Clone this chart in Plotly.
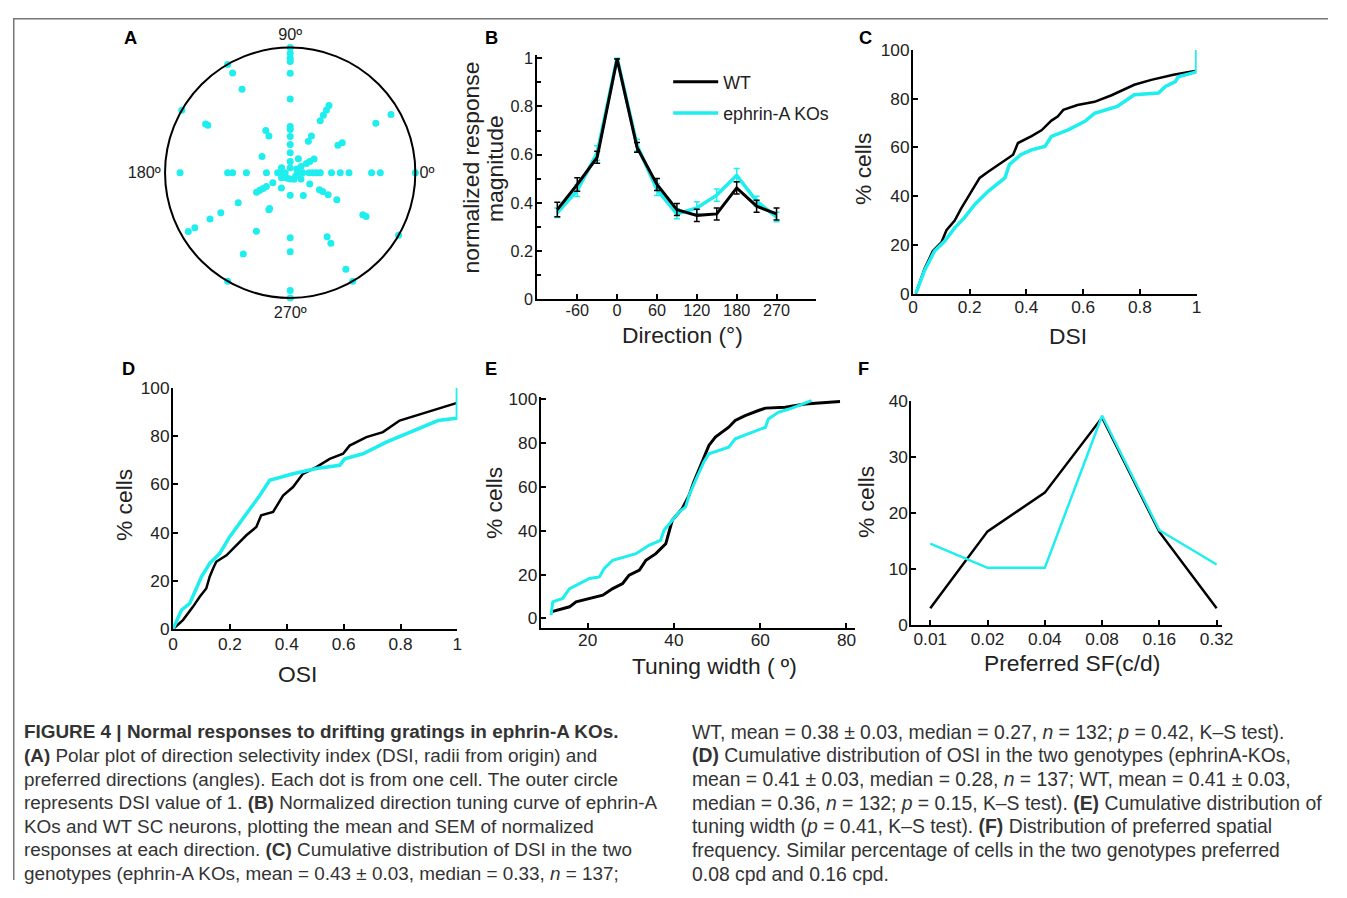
import plotly.graph_objects as go

# Figure size is kept fixed; reference-image pixel positions (X, Y) are mapped
# into figure pixels with the empirically measured placement of the rendered page.
W, H = 1331, 882
SX, OX = 0.988, 13.3
SY, OY = 0.980, 16.3
FS = 1.015  # font compensation for the rendered scale
FONT = "Liberation Sans, Arial, Helvetica, sans-serif"
CYAN = "#1EEEEE"
TXT = "#222"

# ---------------- data ----------------
# A: polar plot of DSI (radius) vs preferred direction (deg)
polar_theta = ([90] * 13 + [270] * 6 + [0] * 12 + [180] * 8 + [30] * 9 + [60] * 7 +
               [120] * 5 + [150] * 5 + [210] * 11 + [240] * 7 + [300] * 6 + [330] * 10)
polar_r = [1.0, 0.955, 0.915, 0.89, 0.795, 0.59, 0.37, 0.345, 0.29, 0.225, 0.16, 0.09, 0.04,
           0.18, 0.52, 0.63, 0.94, 1.0, 0.05,
           1.0, 0.72, 0.65, 0.47, 0.40, 0.33, 0.24, 0.21, 0.18, 0.15, 0.10, 0.06,
           0.88, 0.50, 0.46, 0.35, 0.19, 0.10, 0.07, 0.04,
           0.93, 0.79, 0.48, 0.44, 0.22, 0.18, 0.15, 0.10, 0.06,
           0.62, 0.58, 0.53, 0.48, 0.34, 0.29, 0.13,
           1.0, 0.92, 0.77, 0.39, 0.34,
           1.0, 0.78, 0.76, 0.26, 0.08,
           0.94, 0.88, 0.74, 0.64, 0.48, 0.31, 0.28, 0.25, 0.22, 0.16, 0.08,
           1.0, 0.75, 0.54, 0.34, 0.33, 0.14, 0.05,
           1.0, 0.89, 0.65, 0.59, 0.21, 0.06,
           1.0, 0.70, 0.67, 0.43, 0.35, 0.30, 0.27, 0.18, 0.10, 0.05]
polar_tickvals = [0, 90, 180, 270]
polar_ticktext = ["0º", "90º", "180º", "270º"]

# B: normalized direction tuning curves
directions = [-90, -60, -30, 0, 30, 60, 90, 120, 150, 180, 210, 240]
wt_resp = [0.372, 0.476, 0.589, 0.997, 0.63, 0.476, 0.372, 0.348, 0.354, 0.462, 0.386, 0.354]
wt_sem = [0.03, 0.028, 0.025, 0.0, 0.02, 0.025, 0.025, 0.025, 0.025, 0.025, 0.025, 0.025]
ko_resp = [0.359, 0.451, 0.607, 1.0, 0.639, 0.455, 0.354, 0.379, 0.432, 0.514, 0.407, 0.341]
ko_sem = [0.02, 0.025, 0.03, 0.0, 0.025, 0.025, 0.02, 0.025, 0.025, 0.028, 0.02, 0.02]
b_tickvals = [-60, 0, 60, 120, 180, 240]
b_ticktext = ["-60", "0", "60", "120", "180", "270"]

# C: cumulative DSI
c_wt_x = [0.01, 0.04, 0.07, 0.10, 0.118, 0.147, 0.17, 0.20, 0.235, 0.265, 0.31, 0.353, 0.37,
          0.418, 0.453, 0.488, 0.51, 0.53, 0.58, 0.64, 0.70, 0.78, 0.84, 0.918, 0.994]
c_wt_y = [0, 10, 17.5, 21, 26, 30, 35, 40.6, 47.5, 50, 53.6, 57, 61.8,
          64.6, 67, 71, 72.7, 75.4, 77.4, 78.7, 81.4, 85.7, 87.7, 89.8, 91.4]
c_ko_x = [0.01, 0.04, 0.076, 0.112, 0.147, 0.18, 0.218, 0.265, 0.324, 0.34, 0.38, 0.418, 0.465,
          0.488, 0.547, 0.606, 0.64, 0.72, 0.78, 0.865, 0.89, 0.925, 0.935, 0.994, 1.0, 1.0]
c_ko_y = [0, 9.3, 17.5, 21.6, 27, 31, 36.6, 42, 47.5, 53, 57, 59, 60.4,
          64.5, 67.2, 70.7, 74, 76.8, 81.6, 82.3, 85, 87, 89, 90.5, 91, 100]

# D: cumulative OSI
d_wt_x = [0, 0.035, 0.07, 0.094, 0.117, 0.129, 0.141, 0.152, 0.188, 0.223, 0.258, 0.293, 0.31,
          0.352, 0.387, 0.422, 0.457, 0.504, 0.551, 0.598, 0.621, 0.68, 0.738, 0.797, 0.856, 0.926, 0.996]
d_wt_y = [0, 3.7, 9.2, 13.4, 16.8, 21.7, 25.1, 27.9, 30.6, 34.8, 38.9, 42.3, 47.2,
          48.6, 55.4, 58.9, 64.4, 67.2, 70.6, 72.7, 76.1, 79.6, 81.7, 86.5, 88.6, 91.3, 93.7]
d_ko_x = [0, 0.03, 0.059, 0.076, 0.1, 0.129, 0.164, 0.199, 0.234, 0.27, 0.305, 0.34, 0.422,
          0.504, 0.586, 0.604, 0.668, 0.75, 0.809, 0.879, 0.932, 0.996, 1.0, 1.0]
d_ko_y = [0, 7.9, 10.6, 15.4, 21.7, 27.2, 31.3, 38.2, 43.7, 49.9, 55.4, 61.7, 64.4,
          66.6, 67.9, 70.6, 72.7, 77.5, 80.3, 83.7, 86.5, 87.4, 87.4, 100]

# E: cumulative tuning width
e_wt_x = [11.5, 15.8, 17.3, 20.4, 23.5, 25.8, 28.1, 29.6, 32, 33.5, 35.8, 38.1, 38.7, 39.6,
          41.9, 43.5, 44.6, 46.5, 48.1, 49.6, 52.7, 54.2, 56.5, 59.6, 61.2, 65.8, 70.4, 78.5]
e_wt_y = [3, 5.3, 7.6, 9.1, 10.6, 13.6, 15.9, 19.7, 22, 26.5, 29.5, 34, 37.9, 44.7,
          50, 56, 62.1, 71.2, 78.8, 82.6, 87.1, 90.2, 92.4, 94.7, 95.8, 96.2, 97.7, 98.8]
e_ko_x = [11.5, 11.9, 14.2, 15.8, 18.1, 20.4, 22.7, 23.8, 25.8, 28.8, 31.2, 34.2, 36.9, 37.7,
          39.6, 41.2, 42.7, 43.5, 45, 46.9, 48.1, 52.7, 54.2, 58.1, 61.2, 61.9, 64.2, 66.9, 68.8, 71.9]
e_ko_y = [1.5, 7.6, 9.1, 13.6, 15.9, 18.2, 18.9, 22.7, 26.5, 28, 29.5, 33.3, 35.6, 40.2,
          44.7, 48.5, 50.8, 56, 62.9, 71.2, 75, 78, 81.8, 84.8, 87.1, 90.9, 93.9, 95.5, 97, 99.2]

# F: preferred spatial frequency distribution
sf = [0.01, 0.02, 0.04, 0.08, 0.16, 0.32]
sf_labels = ["0.01", "0.02", "0.04", "0.08", "0.16", "0.32"]
f_wt = [3.0, 16.7, 23.6, 37.0, 16.6, 3.0]
f_ko = [14.5, 10.2, 10.2, 37.3, 16.9, 10.8]

panel_letters = ["A", "B", "C", "D", "E", "F"]
panel_letter_px = [(131, 36), (492, 36), (866, 36), (129, 368), (491, 368), (864, 368)]

# axis titles: (text, x, y, rotated)
axis_titles = [
    ("Direction (°)", 683, 334, False),
    ("normalized response", 471.5, 166, True),
    ("magnitude", 496, 167, True),
    ("DSI", 1068, 335, False),
    ("% cells", 864, 168, True),
    ("OSI", 298, 674, False),
    ("% cells", 125, 505, True),
    ("Tuning width ( º)", 715, 666, False),
    ("% cells", 495, 503, True),
    ("Preferred SF(c/d)", 1072, 663, False),
    ("% cells", 867, 502, True),
]

caption_left = [
    "<b>FIGURE 4 | Normal responses to drifting gratings in ephrin-A KOs.</b>",
    "<b>(A)</b> Polar plot of direction selectivity index (DSI, radii from origin) and",
    "preferred directions (angles). Each dot is from one cell. The outer circle",
    "represents DSI value of 1. <b>(B)</b> Normalized direction tuning curve of ephrin-A",
    "KOs and WT SC neurons, plotting the mean and SEM of normalized",
    "responses at each direction. <b>(C)</b> Cumulative distribution of DSI in the two",
    "genotypes (ephrin-A KOs, mean = 0.43 ± 0.03, median = 0.33, <i>n</i> = 137;",
]
caption_right = [
    "WT, mean = 0.38 ± 0.03, median = 0.27, <i>n</i> = 132; <i>p</i> = 0.42, K–S test).",
    "<b>(D)</b> Cumulative distribution of OSI in the two genotypes (ephrinA-KOs,",
    "mean = 0.41 ± 0.03, median = 0.28, <i>n</i> = 137; WT, mean = 0.41 ± 0.03,",
    "median = 0.36, <i>n</i> = 132; <i>p</i> = 0.15, K–S test). <b>(E)</b> Cumulative distribution of",
    "tuning width (<i>p</i> = 0.41, K–S test). <b>(F)</b> Distribution of preferred spatial",
    "frequency. Similar percentage of cells in the two genotypes preferred",
    "0.08 cpd and 0.16 cpd.",
]


# ---------------- helpers (reference pixel -> paper fraction) ----------------
def fx(X):
    return ((X - OX) / SX) / W


def fy(Y):
    return 1 - ((Y - OY) / SY) / H


def px_x(a, b):
    return [fx(a), fx(b)]


def px_y(top, bottom):
    return [fy(bottom), fy(top)]


def f(size):
    return size * FS


def axis(domain, rng, tickfont=17, standoff=0, **kw):
    d = dict(domain=domain, range=rng, showline=True, linecolor="black", linewidth=2,
             ticks="inside", ticklen=5, tickwidth=1.5, tickcolor="black",
             showgrid=False, zeroline=False, mirror=False, ticklabelstandoff=standoff,
             tickfont=dict(size=f(tickfont), color=TXT, family=FONT))
    d.update(kw)
    return d


fig = go.Figure()

# A
fig.add_trace(go.Scatterpolar(r=polar_r, theta=polar_theta, mode="markers",
                              marker=dict(color=CYAN, size=7), showlegend=False, subplot="polar"))

# B
fig.add_trace(go.Scatter(x=directions, y=ko_resp, mode="lines", name="ephrin-A KOs",
                         line=dict(color=CYAN, width=3.5),
                         error_y=dict(type="data", array=ko_sem, color=CYAN, thickness=1.5, width=3),
                         xaxis="x", yaxis="y", legendgroup="ko", legendrank=2))
fig.add_trace(go.Scatter(x=directions, y=wt_resp, mode="lines", name="WT",
                         line=dict(color="black", width=3),
                         error_y=dict(type="data", array=wt_sem, color="black", thickness=1.5, width=3),
                         xaxis="x", yaxis="y", legendgroup="wt", legendrank=1))

# C
fig.add_trace(go.Scatter(x=c_wt_x, y=c_wt_y, mode="lines", line=dict(color="black", width=2.5),
                         showlegend=False, xaxis="x2", yaxis="y2"))
fig.add_trace(go.Scatter(x=c_ko_x, y=c_ko_y, mode="lines", line=dict(color=CYAN, width=3.5),
                         showlegend=False, xaxis="x2", yaxis="y2"))
# D
fig.add_trace(go.Scatter(x=d_wt_x, y=d_wt_y, mode="lines", line=dict(color="black", width=2.5),
                         showlegend=False, xaxis="x3", yaxis="y3"))
fig.add_trace(go.Scatter(x=d_ko_x, y=d_ko_y, mode="lines", line=dict(color=CYAN, width=3.5),
                         showlegend=False, xaxis="x3", yaxis="y3"))
# E
fig.add_trace(go.Scatter(x=e_wt_x, y=e_wt_y, mode="lines", line=dict(color="black", width=3),
                         showlegend=False, xaxis="x4", yaxis="y4"))
fig.add_trace(go.Scatter(x=e_ko_x, y=e_ko_y, mode="lines", line=dict(color=CYAN, width=3),
                         showlegend=False, xaxis="x4", yaxis="y4"))
# F
fig.add_trace(go.Scatter(x=sf, y=f_wt, mode="lines", line=dict(color="black", width=2.5),
                         showlegend=False, xaxis="x5", yaxis="y5"))
fig.add_trace(go.Scatter(x=sf, y=f_ko, mode="lines", line=dict(color=CYAN, width=2.5),
                         showlegend=False, xaxis="x5", yaxis="y5"))

annotations = []
for letter, (lx, ly) in zip(panel_letters, panel_letter_px):
    annotations.append(dict(text=f"<b>{letter}</b>", x=fx(lx), y=fy(ly), xref="paper", yref="paper",
                            showarrow=False, xanchor="center", yanchor="middle",
                            font=dict(size=f(18), color="black", family=FONT)))
for text, tx, ty, rot in axis_titles:
    annotations.append(dict(text=text, x=fx(tx), y=fy(ty), xref="paper", yref="paper",
                            showarrow=False, xanchor="center", yanchor="middle",
                            textangle=-90 if rot else 0,
                            font=dict(size=f(22.5), color=TXT, family=FONT)))
line_h = 23.7
for col_x, lines, size in ((22.5, caption_left, 18.9), (690.5, caption_right, 19.35)):
    for i, t in enumerate(lines):
        annotations.append(dict(text=t, x=fx(col_x), y=fy(732 + i * line_h), xref="paper", yref="paper",
                                showarrow=False, xanchor="left", yanchor="middle", align="left",
                                font=dict(size=size, color="#333", family=FONT)))

shapes = [
    dict(type="line", xref="paper", yref="paper", x0=0, x1=1, y0=1 - 0.75 / H, y1=1 - 0.75 / H,
         line=dict(color="#777", width=1.5)),
    dict(type="line", xref="paper", yref="paper", x0=0.75 / W, x1=0.75 / W, y0=0, y1=1 - 0.75 / H,
         line=dict(color="#777", width=1.5)),
]

fig.update_layout(
    width=W, height=H, margin=dict(l=0, r=0, t=0, b=0),
    paper_bgcolor="white", plot_bgcolor="white",
    font=dict(family=FONT, color=TXT),
    polar=dict(domain=dict(x=px_x(165, 416), y=px_y(46, 297)), bgcolor="white",
               radialaxis=dict(visible=False, range=[0, 1]),
               angularaxis=dict(tickvals=polar_tickvals, ticktext=polar_ticktext, ticks="",
                                showgrid=False, linecolor="black", linewidth=2, direction="counterclockwise",
                                rotation=0, tickfont=dict(size=f(16), color=TXT, family=FONT))),
    xaxis=axis(px_x(537.7, 816.7), [-120, 300], tickfont=16, standoff=-5,
               tickvals=b_tickvals, ticktext=b_ticktext, anchor="y"),
    yaxis=axis(px_y(53, 298.3), [0, 1.015], tickfont=16, standoff=-1,
               dtick=0.2, anchor="x", minor=dict(dtick=0.1, ticks="inside", ticklen=4, tickcolor="black")),
    xaxis2=axis(px_x(913.3, 1197), [0, 1], standoff=-3, dtick=0.2, anchor="y2"),
    yaxis2=axis(px_y(48.3, 292.7), [0, 100], standoff=-2, dtick=20, anchor="x2"),
    xaxis3=axis(px_x(173.3, 457.7), [0, 1], standoff=-2, dtick=0.2, anchor="y3"),
    yaxis3=axis(px_y(387.3, 629), [0, 100], standoff=-2, dtick=20, anchor="x3"),
    xaxis4=axis(px_x(541, 855), [9.1, 81.9], standoff=-5, dtick=20, anchor="y4"),
    yaxis4=axis(px_y(396.7, 628.3), [-4.5, 100.7], standoff=-2, dtick=20, anchor="x4"),
    xaxis5=axis(px_x(911.7, 1222.7), [-2.0993, -0.4647], standoff=-3, type="log",
                tickvals=sf, ticktext=sf_labels, anchor="y5"),
    yaxis5=axis(px_y(400, 625), [0, 40], standoff=-2, dtick=10, anchor="x5"),
    legend=dict(x=fx(668.5), y=fy(62.2), xanchor="left", yanchor="top", bgcolor="rgba(0,0,0,0)",
                font=dict(size=f(17.5), color=TXT, family=FONT), tracegroupgap=5,
                traceorder="grouped", itemwidth=45),
    annotations=annotations, shapes=shapes,
)

fig.write_html("out.html")
